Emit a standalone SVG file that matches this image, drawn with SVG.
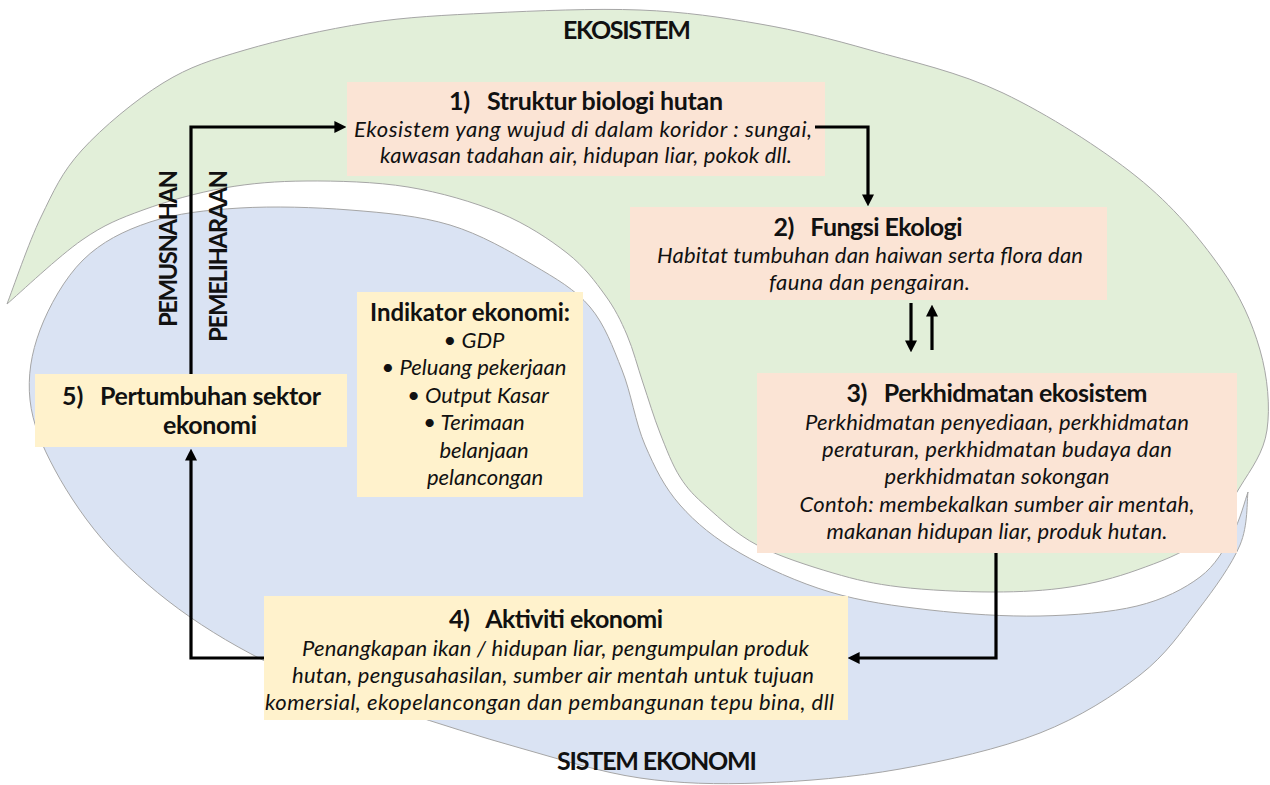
<svg xmlns="http://www.w3.org/2000/svg" width="1270" height="785" viewBox="0 0 1270 785">
<defs>
<marker id="ah" viewBox="0 0 10 10" refX="3" refY="5" markerWidth="12" markerHeight="12" markerUnits="userSpaceOnUse" orient="auto"><path d="M0,0 L10,5 L0,10 z" fill="#000"/></marker>
<style>
.t{font-family:Lato,"Liberation Sans",sans-serif;fill:#111;}
.h{font-weight:700;font-size:25px;}
.i{font-style:italic;font-size:22px;}
.pink{fill:#fbe4d5;}
.yel{fill:#fff2cc;}
.shape{stroke:#a6a6a6;stroke-width:1;}
#connectors path{fill:none;stroke:#000;stroke-width:3.2;stroke-linejoin:miter;marker-end:url(#ah);}
</style>
</defs>
<rect width="1270" height="785" fill="#fff"/>
<g id="ekosistem-shape">
<path class="shape" fill="#e2efd9" d="M7,304 C12.7,289.5 28.5,242.7 41,217 C53.5,191.3 61.7,172.3 82,150 C102.3,127.7 135.8,99.7 163,83 C190.2,66.3 211,60 245,50 C279,40 326.2,29.2 367,23 C407.8,16.8 444.5,15.2 490,13 C535.5,10.8 595,8.2 640,10 C685,11.8 721.7,17.3 760,24 C798.3,30.7 829.5,38.5 870,50 C910.5,61.5 958.5,71.8 1003,93 C1047.5,114.2 1100.8,148 1137,177 C1173.2,206 1199.5,238.2 1220,267 C1240.5,295.8 1252.2,322.8 1260,350 C1267.8,377.2 1270.3,407.2 1267,430 C1263.7,452.8 1251.2,468.7 1240,487 C1228.8,505.3 1217.2,526.2 1200,540 C1182.8,553.8 1158.7,562.2 1137,570 C1115.3,577.8 1094,583.3 1070,587 C1046,590.7 1021.3,592 993,592 C964.7,592 926.7,590.2 900,587 C873.3,583.8 856.8,580 833,573 C809.2,566 778,556 757,545 C736,534 719.8,518.3 707,507 C694.2,495.7 687.8,489.3 680,477 C672.2,464.7 666.2,448.7 660,433 C653.8,417.3 648.5,399.3 643,383 C637.5,366.7 633.3,349.7 627,335 C620.7,320.3 615,308.7 605,295 C595,281.3 584.5,266.7 567,253 C549.5,239.3 526.5,224 500,213 C473.5,202 440.3,192.3 408,187 C375.7,181.7 336.7,180.8 306,181 C276.7,181.2 251.2,183.2 224,188 C196.8,192.8 166.7,201.3 143,210 C119.3,218.7 104.7,224.3 82,240 C59.3,255.7 19.5,293.3 7,304 Z"/>
<text class="t h" x="627" y="39" text-anchor="middle" textLength="128">EKOSISTEM</text>
</g>
<g id="sistem-ekonomi-shape">
<path class="shape" fill="#dae3f3" d="M1248,492 C1246.7,500.8 1248.3,525.3 1240,545 C1231.7,564.7 1214.7,588.3 1198,610 C1181.3,631.7 1166.3,654.5 1140,675 C1113.7,695.5 1080,717.3 1040,733 C1000,748.7 946.7,760.7 900,769 C853.3,777.3 803.3,781.5 760,783 C716.7,784.5 680,783.8 640,778 C600,772.2 560,759.2 520,748 C480,736.8 438.3,723.5 400,711 C361.7,698.5 325,688.7 290,673 C255,657.3 220,637.8 190,617 C160,596.2 132.5,572.5 110,548 C87.5,523.5 68.3,494.7 55,470 C41.7,445.3 32.5,423.3 30,400 C27.5,376.7 31.2,353.3 40,330 C48.8,306.7 64.7,278 83,260 C101.3,242 123.8,230.7 150,222 C176.2,213.3 206.7,210 240,208 C273.3,206 315,207.2 350,210 C385,212.8 419.5,215.8 450,225 C480.5,234.2 509.7,251.3 533,265 C556.3,278.7 575.2,289.5 590,307 C604.8,324.5 612.8,347 622,370 C631.2,393 635.3,422.5 645,445 C654.7,467.5 664.2,487 680,505 C695.8,523 715,538.5 740,553 C765,567.5 798.3,582.5 830,592 C861.7,601.5 895,606 930,610 C965,614 1005.5,616.7 1040,616 C1074.5,615.3 1110.3,612.5 1137,606 C1163.7,599.5 1184.2,588.8 1200,577 C1215.8,565.2 1224,549.2 1232,535 C1240,520.8 1245.3,499.2 1248,492 Z"/>
<text class="t h" x="657" y="770" text-anchor="middle" textLength="200">SISTEM EKONOMI</text>
</g>
<g id="node1">
<rect class="pink" x="347" y="82" width="478" height="94"/>
<text class="t h" x="586" y="110" text-anchor="middle" textLength="274" xml:space="preserve">1)   Struktur biologi hutan</text>
<text class="t i" x="583" y="137" text-anchor="middle" textLength="458">Ekosistem yang wujud di dalam koridor : sungai,</text>
<text class="t i" x="586" y="163" text-anchor="middle" textLength="412">kawasan tadahan air, hidupan liar, pokok dll.</text>
</g>
<g id="node2">
<rect class="pink" x="630" y="207" width="477" height="93"/>
<text class="t h" x="868" y="236" text-anchor="middle" textLength="189" xml:space="preserve">2)   Fungsi Ekologi</text>
<text class="t i" x="870" y="263" text-anchor="middle" textLength="426">Habitat tumbuhan dan haiwan serta flora dan</text>
<text class="t i" x="869.5" y="290" text-anchor="middle" textLength="201">fauna dan pengairan.</text>
</g>
<g id="node3">
<rect class="pink" x="757" y="373" width="480" height="180"/>
<text class="t h" x="997" y="402" text-anchor="middle" textLength="301" xml:space="preserve">3)   Perkhidmatan ekosistem</text>
<text class="t i" x="997" y="430" text-anchor="middle" textLength="384">Perkhidmatan penyediaan, perkhidmatan</text>
<text class="t i" x="997" y="457" text-anchor="middle" textLength="350">peraturan, perkhidmatan budaya dan</text>
<text class="t i" x="997" y="484" text-anchor="middle" textLength="225">perkhidmatan sokongan</text>
<text class="t i" x="997" y="512" text-anchor="middle" textLength="395">Contoh: membekalkan sumber air mentah,</text>
<text class="t i" x="997" y="539" text-anchor="middle" textLength="341">makanan hidupan liar, produk hutan.</text>
</g>
<g id="node4">
<rect class="yel" x="264" y="596" width="584" height="124"/>
<text class="t h" x="556" y="628" text-anchor="middle" textLength="214" xml:space="preserve">4)   Aktiviti ekonomi</text>
<text class="t i" x="555.5" y="656" text-anchor="middle" textLength="507">Penangkapan ikan / hidupan liar, pengumpulan produk</text>
<text class="t i" x="553" y="683" text-anchor="middle" textLength="522">hutan, pengusahasilan, sumber air mentah untuk tujuan</text>
<text class="t i" x="549.5" y="710" text-anchor="middle" textLength="569">komersial, ekopelancongan dan pembangunan tepu bina, dll</text>
</g>
<g id="node5">
<rect class="yel" x="35" y="374" width="312" height="73"/>
<text class="t h" x="62" y="405">5)</text>
<text class="t h" x="210.5" y="405" text-anchor="middle" textLength="221">Pertumbuhan sektor</text>
<text class="t h" x="210" y="434" text-anchor="middle" textLength="94">ekonomi</text>
</g>
<g id="indikator">
<rect class="yel" x="357" y="292" width="226" height="205"/>
<text class="t h" x="470" y="321" text-anchor="middle" textLength="200" style="font-size:24px">Indikator ekonomi:</text>
<text class="t i" x="474" y="348" text-anchor="middle">• GDP</text>
<text class="t i" x="474" y="375" text-anchor="middle">• Peluang pekerjaan</text>
<text class="t i" x="478" y="403" text-anchor="middle">• Output Kasar</text>
<text class="t i" x="474" y="430" text-anchor="middle">• Terimaan</text>
<text class="t i" x="484" y="458" text-anchor="middle">belanjaan</text>
<text class="t i" x="485" y="485" text-anchor="middle">pelancongan</text>
</g>
<g id="labels">
<text class="t h" transform="translate(177,327) rotate(-90)" textLength="157" style="font-size:24px">PEMUSNAHAN</text>
<text class="t h" transform="translate(227,342) rotate(-90)" textLength="172" style="font-size:24px">PEMELIHARAAN</text>
</g>
<g id="connectors">
<path d="M191,374 V127 H338"/>
<path d="M815,127 H868 V198"/>
<path d="M911,303 V344"/>
<path d="M932,350 V313"/>
<path d="M996,553 V658 H856"/>
<path d="M264,658 H191 V457"/>
</g>
</svg>
